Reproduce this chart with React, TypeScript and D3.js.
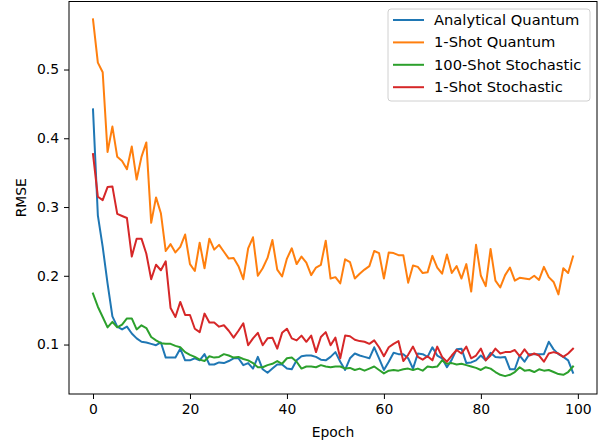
import React, { useEffect, useRef } from 'react';
import * as d3 from 'd3';

const analyticalQuantum = [
  0.442, 0.288, 0.242, 0.189, 0.141, 0.126, 0.122, 0.126, 0.116, 0.109,
  0.104, 0.103, 0.101, 0.099, 0.103, 0.081, 0.081, 0.081, 0.094, 0.077,
  0.077, 0.080, 0.077, 0.086, 0.071, 0.071, 0.074, 0.073, 0.076, 0.080,
  0.080, 0.070, 0.073, 0.065, 0.082, 0.064, 0.059, 0.065, 0.071, 0.071,
  0.065, 0.064, 0.077, 0.083, 0.084, 0.084, 0.082, 0.078, 0.077, 0.082,
  0.089, 0.075, 0.063, 0.080, 0.087, 0.084, 0.082, 0.080, 0.096, 0.080,
  0.063, 0.075, 0.088, 0.086, 0.086, 0.080, 0.065, 0.087, 0.086, 0.082,
  0.096, 0.084, 0.080, 0.067, 0.078, 0.093, 0.094, 0.073, 0.074, 0.077,
  0.084, 0.077, 0.088, 0.082, 0.081, 0.082, 0.064, 0.064, 0.084, 0.075,
  0.086, 0.086, 0.086, 0.086, 0.104, 0.093, 0.086, 0.082, 0.077, 0.059,
];

const oneShotQuantum = [
  0.573, 0.510, 0.496, 0.380, 0.417, 0.373, 0.367, 0.355, 0.388, 0.340,
  0.373, 0.394, 0.277, 0.314, 0.291, 0.236, 0.246, 0.234, 0.242, 0.260,
  0.217, 0.207, 0.248, 0.211, 0.254, 0.238, 0.245, 0.235, 0.225, 0.226,
  0.214, 0.195, 0.240, 0.256, 0.200, 0.211, 0.226, 0.252, 0.209, 0.199,
  0.225, 0.240, 0.217, 0.228, 0.219, 0.201, 0.212, 0.216, 0.251, 0.196,
  0.198, 0.189, 0.224, 0.220, 0.196, 0.203, 0.209, 0.214, 0.236, 0.233,
  0.196, 0.234, 0.233, 0.230, 0.230, 0.190, 0.215, 0.213, 0.204, 0.205,
  0.229, 0.212, 0.203, 0.231, 0.204, 0.214, 0.196, 0.217, 0.177, 0.245,
  0.200, 0.185, 0.239, 0.193, 0.183, 0.201, 0.212, 0.193, 0.197, 0.196,
  0.195, 0.200, 0.194, 0.213, 0.198, 0.191, 0.173, 0.211, 0.204, 0.228,
];

const hundredShotStochastic = [
  0.174, 0.155, 0.140, 0.125, 0.133, 0.125, 0.129, 0.138, 0.138, 0.122,
  0.128, 0.124, 0.111, 0.106, 0.102, 0.101, 0.101, 0.098, 0.096, 0.089,
  0.085, 0.082, 0.078, 0.076, 0.083, 0.081, 0.082, 0.086, 0.084, 0.081,
  0.082, 0.079, 0.077, 0.073, 0.067, 0.067, 0.070, 0.072, 0.076, 0.072,
  0.080, 0.081, 0.075, 0.065, 0.068, 0.068, 0.067, 0.070, 0.068, 0.067,
  0.068, 0.068, 0.065, 0.066, 0.063, 0.065, 0.062, 0.065, 0.068, 0.063,
  0.058, 0.062, 0.063, 0.062, 0.064, 0.065, 0.063, 0.065, 0.062, 0.068,
  0.067, 0.068, 0.077, 0.072, 0.073, 0.071, 0.072, 0.070, 0.068, 0.066,
  0.063, 0.067, 0.065, 0.060, 0.056, 0.054, 0.056, 0.060, 0.067, 0.062,
  0.063, 0.060, 0.064, 0.062, 0.063, 0.060, 0.057, 0.056, 0.060, 0.068,
];

const oneShotStochastic = [
  0.377, 0.315, 0.310, 0.329, 0.330, 0.290, 0.287, 0.284, 0.228, 0.254,
  0.254, 0.232, 0.195, 0.216, 0.208, 0.221, 0.153, 0.140, 0.162, 0.143,
  0.143, 0.123, 0.118, 0.145, 0.132, 0.132, 0.126, 0.128, 0.120, 0.110,
  0.120, 0.131, 0.099, 0.109, 0.117, 0.099, 0.109, 0.110, 0.094, 0.117,
  0.123, 0.109, 0.106, 0.113, 0.104, 0.113, 0.089, 0.111, 0.118, 0.099,
  0.110, 0.080, 0.113, 0.112, 0.107, 0.105, 0.104, 0.101, 0.106, 0.096,
  0.083, 0.096, 0.101, 0.105, 0.076, 0.085, 0.097, 0.082, 0.078, 0.083,
  0.077, 0.097, 0.082, 0.075, 0.084, 0.092, 0.087, 0.097, 0.080, 0.084,
  0.094, 0.077, 0.084, 0.094, 0.087, 0.089, 0.089, 0.092, 0.083, 0.093,
  0.084, 0.087, 0.084, 0.075, 0.087, 0.089, 0.087, 0.082, 0.087, 0.094,
];

const seriesNames = ['Analytical Quantum', '1-Shot Quantum', '100-Shot Stochastic', '1-Shot Stochastic'];
const seriesColors = ['#1f77b4', '#ff7f0e', '#2ca02c', '#d62728'];
const xTicks = [0, 20, 40, 60, 80, 100];
const yTicks = [0.1, 0.2, 0.3, 0.4, 0.5];

const W = 605, H = 443;
const margin = { left: 69, right: 8, top: 1.5, bottom: 49 };
const fontSize = 13.9;
const legendFontSize = 14.7;

export default function App() {
  const ref = useRef<SVGSVGElement>(null);

  useEffect(() => {
    const svg = d3.select(ref.current);
    svg.selectAll('*').remove();
    const font = 'DejaVu Sans, sans-serif';

    const all = [analyticalQuantum, oneShotQuantum, hundredShotStochastic, oneShotStochastic];
    const n = analyticalQuantum.length;
    const ymin = d3.min(all, s => d3.min(s)) as number;
    const ymax = d3.max(all, s => d3.max(s)) as number;
    const padY = (ymax - ymin) * 0.05;
    const padX = (n - 1) * 0.05;

    const x = d3.scaleLinear()
      .domain([-padX, n - 1 + padX])
      .range([margin.left, W - margin.right]);
    const y = d3.scaleLinear()
      .domain([ymin - padY, ymax + padY])
      .range([H - margin.bottom, margin.top]);

    const line = d3.line<number>()
      .x((d, i) => x(i))
      .y(d => y(d));

    const g = svg.append('g');
    all.forEach((s, i) => {
      g.append('path')
        .datum(s)
        .attr('d', line)
        .attr('fill', 'none')
        .attr('stroke', seriesColors[i])
        .attr('stroke-width', 2)
        .attr('stroke-linejoin', 'round')
        .attr('stroke-linecap', 'square');
    });

    // axes frame
    svg.append('rect')
      .attr('x', margin.left)
      .attr('y', margin.top)
      .attr('width', W - margin.right - margin.left)
      .attr('height', H - margin.bottom - margin.top)
      .attr('fill', 'none')
      .attr('stroke', '#000')
      .attr('stroke-width', 1);

    const xAxis = svg.append('g')
      .attr('transform', `translate(0,${H - margin.bottom})`)
      .call(d3.axisBottom(x).tickValues(xTicks).tickSize(5).tickPadding(5).tickFormat(d3.format('d')));
    const yAxis = svg.append('g')
      .attr('transform', `translate(${margin.left},0)`)
      .call(d3.axisLeft(y).tickValues(yTicks).tickSize(5).tickPadding(5).tickFormat(d3.format('.1f')));
    [xAxis, yAxis].forEach(a => {
      a.select('.domain').remove();
      a.selectAll('text').attr('font-family', font).attr('font-size', fontSize).attr('fill', '#000');
      a.selectAll('line').attr('stroke', '#000');
    });

    svg.append('text')
      .attr('x', (margin.left + W - margin.right) / 2)
      .attr('y', 437)
      .attr('text-anchor', 'middle')
      .attr('font-family', font)
      .attr('font-size', fontSize)
      .text('Epoch');
    svg.append('text')
      .attr('transform', `translate(26,${(margin.top + H - margin.bottom) / 2}) rotate(-90)`)
      .attr('text-anchor', 'middle')
      .attr('font-family', font)
      .attr('font-size', fontSize)
      .text('RMSE');

    // legend
    const lg = svg.append('g').attr('transform', 'translate(388,9)');
    lg.append('rect')
      .attr('width', 202)
      .attr('height', 92)
      .attr('rx', 3)
      .attr('fill', 'rgba(255,255,255,0.8)')
      .attr('stroke', '#d0d0d0');
    seriesNames.forEach((name, i) => {
      const yy = 11 + i * 22.4;
      lg.append('line')
        .attr('x1', 5).attr('x2', 36)
        .attr('y1', yy).attr('y2', yy)
        .attr('stroke', seriesColors[i])
        .attr('stroke-width', 2);
      lg.append('text')
        .attr('x', 46)
        .attr('y', yy + 5)
        .attr('font-family', font)
        .attr('font-size', legendFontSize)
        .text(name);
    });
  }, []);

  return (
    <svg ref={ref} width={W} height={H} style={{ position: 'absolute', left: 0, top: 0, background: '#fff' }} />
  );
}
